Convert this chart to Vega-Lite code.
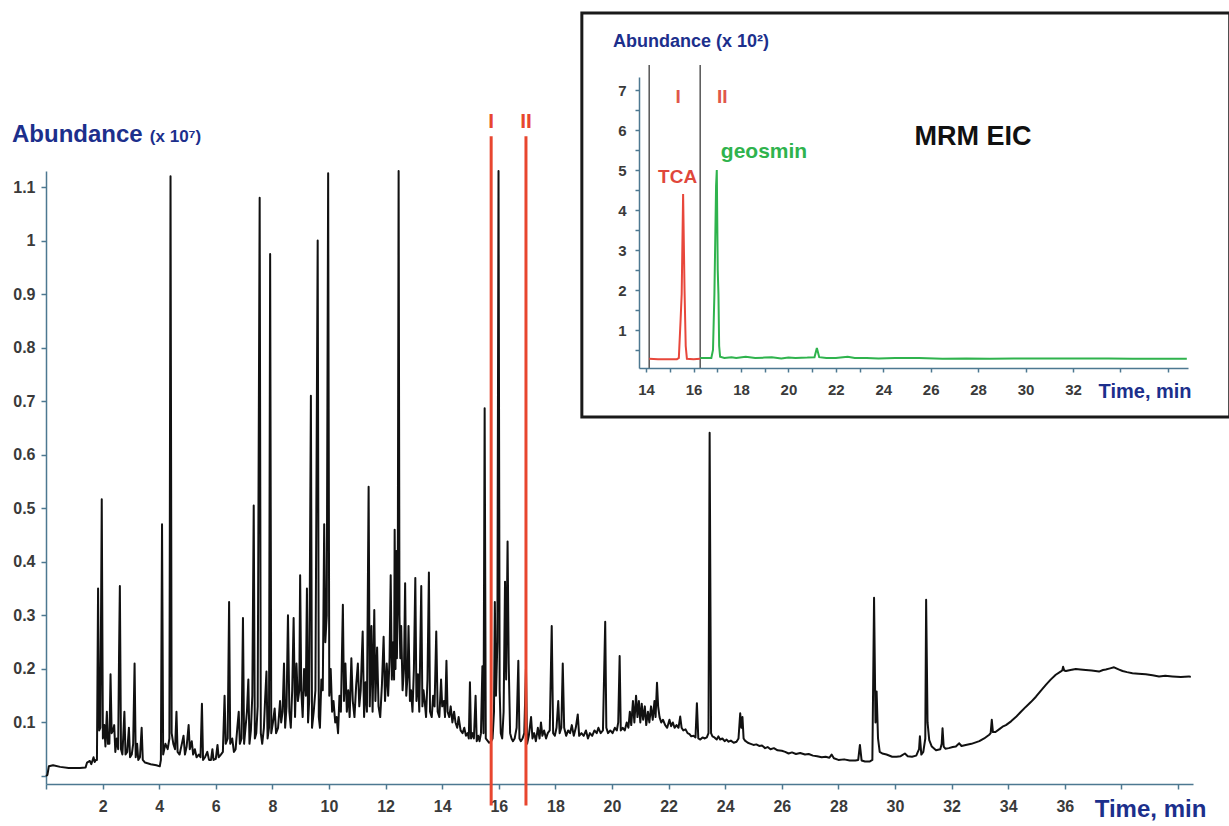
{
"$schema": "https://vega.github.io/schema/vega-lite/v6.json",
"width": 1229, "height": 826, "autosize": "none", "padding": 0,
"background": "white",
"config": {"view": {"stroke": null}, "font": "Liberation Sans",
  "axis": {"grid": false, "domainColor": "#4d7891", "domainWidth": 1.5, "tickColor": "#4d7891", "tickWidth": 1.5, "labelFont": "Liberation Sans", "labelFontWeight": "bold", "labelColor": "#3a3a3a", "labelOverlap": false, "labelFlush": false, "title": null}},
"datasets": {
"main": [
{"t":0.00,"v":0.000},{"t":0.05,"v":0.002},{"t":0.10,"v":0.018},{"t":0.25,"v":0.020},{"t":0.50,"v":0.017},{"t":0.80,"v":0.015},{"t":1.20,"v":0.015},{"t":1.40,"v":0.016},{"t":1.45,"v":0.025},{"t":1.55,"v":0.028},{"t":1.60,"v":0.022},{"t":1.68,"v":0.035},{"t":1.72,"v":0.026},{"t":1.76,"v":0.030},
{"t":1.80,"v":0.030},{"t":1.84,"v":0.350},{"t":1.88,"v":0.085},{"t":1.92,"v":0.090},{"t":1.97,"v":0.517},{"t":2.01,"v":0.070},{"t":2.06,"v":0.095},{"t":2.10,"v":0.055},{"t":2.15,"v":0.120},{"t":2.19,"v":0.060},{"t":2.24,"v":0.060},{"t":2.28,"v":0.190},{"t":2.32,"v":0.080},{"t":2.37,"v":0.085},{"t":2.41,"v":0.095},{"t":2.45,"v":0.045},{"t":2.50,"v":0.070},{"t":2.55,"v":0.050},{"t":2.58,"v":0.220},{"t":2.61,"v":0.355},{"t":2.65,"v":0.050},{"t":2.70,"v":0.040},{"t":2.77,"v":0.120},{"t":2.81,"v":0.040},{"t":2.87,"v":0.045},{"t":2.93,"v":0.090},{"t":2.97,"v":0.035},{"t":3.03,"v":0.040},{"t":3.08,"v":0.060},{"t":3.13,"v":0.210},{"t":3.17,"v":0.035},{"t":3.22,"v":0.060},{"t":3.26,"v":0.030},{"t":3.32,"v":0.035},{"t":3.38,"v":0.090},{"t":3.42,"v":0.030},{"t":3.50,"v":0.025},{"t":3.70,"v":0.022},{"t":3.90,"v":0.020},{"t":4.02,"v":0.018},{"t":4.06,"v":0.030},{"t":4.10,"v":0.470},{"t":4.14,"v":0.040},{"t":4.22,"v":0.060},{"t":4.30,"v":0.050},{"t":4.36,"v":0.070},{"t":4.40,"v":1.120},{"t":4.44,"v":0.080},{"t":4.50,"v":0.060},{"t":4.56,"v":0.050},{"t":4.61,"v":0.120},{"t":4.65,"v":0.045},{"t":4.72,"v":0.040},{"t":4.80,"v":0.060},{"t":4.86,"v":0.075},{"t":4.91,"v":0.040},{"t":4.97,"v":0.055},{"t":5.04,"v":0.095},{"t":5.08,"v":0.050},{"t":5.15,"v":0.065},{"t":5.20,"v":0.040},{"t":5.26,"v":0.050},{"t":5.32,"v":0.035},{"t":5.40,"v":0.040},{"t":5.46,"v":0.035},{"t":5.51,"v":0.135},{"t":5.55,"v":0.030},{"t":5.62,"v":0.035},{"t":5.70,"v":0.045},{"t":5.76,"v":0.030},{"t":5.83,"v":0.030},{"t":5.88,"v":0.050},{"t":5.92,"v":0.030},{"t":6.00,"v":0.032},{"t":6.06,"v":0.058},{"t":6.10,"v":0.035},{"t":6.18,"v":0.040},{"t":6.25,"v":0.045},{"t":6.31,"v":0.150},{"t":6.35,"v":0.060},{"t":6.42,"v":0.070},{"t":6.47,"v":0.325},{"t":6.51,"v":0.060},{"t":6.58,"v":0.070},{"t":6.64,"v":0.045},{"t":6.70,"v":0.050},{"t":6.76,"v":0.090},{"t":6.81,"v":0.120},{"t":6.85,"v":0.060},{"t":6.91,"v":0.070},{"t":6.96,"v":0.295},{"t":7.00,"v":0.060},{"t":7.05,"v":0.090},{"t":7.10,"v":0.120},{"t":7.15,"v":0.180},{"t":7.19,"v":0.060},{"t":7.24,"v":0.085},{"t":7.29,"v":0.150},{"t":7.34,"v":0.505},{"t":7.38,"v":0.070},{"t":7.43,"v":0.080},{"t":7.48,"v":0.130},{"t":7.55,"v":1.080},{"t":7.59,"v":0.080},{"t":7.64,"v":0.060},{"t":7.70,"v":0.090},{"t":7.74,"v":0.140},{"t":7.79,"v":0.195},{"t":7.83,"v":0.070},{"t":7.88,"v":0.090},{"t":7.92,"v":0.975},{"t":7.96,"v":0.080},
{"t":8.02,"v":0.100},{"t":8.08,"v":0.126},{"t":8.13,"v":0.080},{"t":8.20,"v":0.090},{"t":8.27,"v":0.140},{"t":8.31,"v":0.100},{"t":8.36,"v":0.120},{"t":8.41,"v":0.210},{"t":8.45,"v":0.090},{"t":8.50,"v":0.130},{"t":8.55,"v":0.300},{"t":8.60,"v":0.120},{"t":8.65,"v":0.090},{"t":8.70,"v":0.160},{"t":8.75,"v":0.295},{"t":8.80,"v":0.110},{"t":8.85,"v":0.210},{"t":8.90,"v":0.140},{"t":8.95,"v":0.160},{"t":8.98,"v":0.375},{"t":9.02,"v":0.160},{"t":9.07,"v":0.110},{"t":9.12,"v":0.200},{"t":9.18,"v":0.150},{"t":9.22,"v":0.350},{"t":9.26,"v":0.100},{"t":9.30,"v":0.140},{"t":9.36,"v":0.710},{"t":9.40,"v":0.090},{"t":9.46,"v":0.120},{"t":9.52,"v":0.160},{"t":9.60,"v":1.000},{"t":9.64,"v":0.110},{"t":9.68,"v":0.090},{"t":9.73,"v":0.180},{"t":9.78,"v":0.160},{"t":9.83,"v":0.470},{"t":9.87,"v":0.250},{"t":9.92,"v":0.300},{"t":9.97,"v":1.126},{"t":10.01,"v":0.150},{"t":10.06,"v":0.200},{"t":10.11,"v":0.120},{"t":10.16,"v":0.140},{"t":10.22,"v":0.100},{"t":10.27,"v":0.110},{"t":10.32,"v":0.080},{"t":10.37,"v":0.150},{"t":10.42,"v":0.120},{"t":10.49,"v":0.320},{"t":10.53,"v":0.140},{"t":10.58,"v":0.210},{"t":10.63,"v":0.120},{"t":10.68,"v":0.160},{"t":10.73,"v":0.110},{"t":10.79,"v":0.220},{"t":10.84,"v":0.140},{"t":10.90,"v":0.110},{"t":10.96,"v":0.170},{"t":11.02,"v":0.210},{"t":11.07,"v":0.130},{"t":11.12,"v":0.160},{"t":11.19,"v":0.270},{"t":11.24,"v":0.110},{"t":11.29,"v":0.175},{"t":11.34,"v":0.120},{"t":11.40,"v":0.540},{"t":11.44,"v":0.130},{"t":11.50,"v":0.280},{"t":11.54,"v":0.120},{"t":11.60,"v":0.310},{"t":11.64,"v":0.140},{"t":11.70,"v":0.240},{"t":11.75,"v":0.130},{"t":11.81,"v":0.110},{"t":11.87,"v":0.170},{"t":11.93,"v":0.260},{"t":11.98,"v":0.140},{"t":12.04,"v":0.210},{"t":12.09,"v":0.150},{"t":12.14,"v":0.220},{"t":12.18,"v":0.375},{"t":12.22,"v":0.180},{"t":12.27,"v":0.250},{"t":12.30,"v":0.180},{"t":12.32,"v":0.460},{"t":12.35,"v":0.200},{"t":12.38,"v":0.420},{"t":12.40,"v":0.220},{"t":12.43,"v":0.350},{"t":12.46,"v":1.130},{"t":12.49,"v":0.300},{"t":12.52,"v":0.220},{"t":12.55,"v":0.280},{"t":12.60,"v":0.160},{"t":12.65,"v":0.200},{"t":12.69,"v":0.360},{"t":12.73,"v":0.150},{"t":12.78,"v":0.190},{"t":12.81,"v":0.280},{"t":12.86,"v":0.140},{"t":12.90,"v":0.160},{"t":12.95,"v":0.120},{"t":13.00,"v":0.200},{"t":13.05,"v":0.370},{"t":13.09,"v":0.140},{"t":13.14,"v":0.190},{"t":13.19,"v":0.120},{"t":13.26,"v":0.355},{"t":13.30,"v":0.130},{"t":13.34,"v":0.160},{"t":13.38,"v":0.140},{"t":13.43,"v":0.110},{"t":13.48,"v":0.180},{"t":13.53,"v":0.380},{"t":13.57,"v":0.120},{"t":13.63,"v":0.110},{"t":13.68,"v":0.150},{"t":13.73,"v":0.130},{"t":13.79,"v":0.270},{"t":13.84,"v":0.120},{"t":13.90,"v":0.110},{"t":13.96,"v":0.180},
{"t":14.00,"v":0.130},{"t":14.06,"v":0.140},{"t":14.10,"v":0.110},{"t":14.15,"v":0.215},{"t":14.19,"v":0.120},{"t":14.25,"v":0.110},{"t":14.30,"v":0.130},{"t":14.36,"v":0.100},{"t":14.42,"v":0.120},{"t":14.47,"v":0.100},{"t":14.53,"v":0.090},{"t":14.58,"v":0.110},{"t":14.65,"v":0.085},{"t":14.72,"v":0.080},{"t":14.78,"v":0.090},{"t":14.84,"v":0.075},{"t":14.90,"v":0.080},{"t":14.94,"v":0.070},{"t":14.98,"v":0.175},{"t":15.02,"v":0.070},{"t":15.07,"v":0.080},{"t":15.12,"v":0.070},{"t":15.18,"v":0.150},{"t":15.22,"v":0.065},{"t":15.27,"v":0.075},{"t":15.32,"v":0.065},{"t":15.37,"v":0.080},{"t":15.42,"v":0.205},{"t":15.46,"v":0.080},{"t":15.50,"v":0.687},{"t":15.54,"v":0.070},{"t":15.60,"v":0.066},{"t":15.66,"v":0.062},{"t":15.72,"v":0.064},{"t":15.78,"v":0.070},{"t":15.83,"v":0.120},{"t":15.86,"v":0.325},{"t":15.90,"v":0.150},{"t":15.95,"v":0.250},{"t":15.99,"v":1.130},{"t":16.03,"v":0.160},{"t":16.07,"v":0.080},{"t":16.12,"v":0.070},{"t":16.17,"v":0.120},{"t":16.22,"v":0.363},{"t":16.26,"v":0.180},{"t":16.31,"v":0.438},{"t":16.35,"v":0.210},{"t":16.40,"v":0.080},{"t":16.45,"v":0.070},{"t":16.50,"v":0.065},{"t":16.56,"v":0.070},{"t":16.63,"v":0.090},{"t":16.69,"v":0.215},{"t":16.73,"v":0.070},{"t":16.78,"v":0.065},{"t":16.84,"v":0.070},{"t":16.90,"v":0.080},{"t":16.96,"v":0.200},{"t":17.00,"v":0.060},{"t":17.06,"v":0.075},{"t":17.14,"v":0.110},{"t":17.19,"v":0.070},{"t":17.25,"v":0.080},{"t":17.31,"v":0.065},{"t":17.38,"v":0.090},{"t":17.44,"v":0.070},{"t":17.49,"v":0.100},{"t":17.54,"v":0.075},{"t":17.60,"v":0.085},{"t":17.67,"v":0.070},{"t":17.73,"v":0.080},{"t":17.80,"v":0.085},{"t":17.87,"v":0.280},{"t":17.92,"v":0.080},{"t":17.98,"v":0.075},{"t":18.04,"v":0.090},{"t":18.10,"v":0.140},{"t":18.15,"v":0.080},{"t":18.21,"v":0.090},{"t":18.26,"v":0.210},{"t":18.31,"v":0.090},{"t":18.38,"v":0.075},{"t":18.45,"v":0.085},{"t":18.52,"v":0.080},{"t":18.58,"v":0.095},{"t":18.65,"v":0.075},{"t":18.72,"v":0.090},{"t":18.79,"v":0.115},{"t":18.84,"v":0.075},{"t":18.92,"v":0.080},{"t":19.00,"v":0.075},{"t":19.08,"v":0.085},{"t":19.15,"v":0.070},{"t":19.22,"v":0.080},{"t":19.30,"v":0.075},{"t":19.38,"v":0.085},{"t":19.46,"v":0.080},{"t":19.52,"v":0.090},{"t":19.60,"v":0.080},{"t":19.68,"v":0.085},{"t":19.76,"v":0.288},{"t":19.80,"v":0.090},{"t":19.86,"v":0.080},{"t":19.94,"v":0.085},{"t":20.02,"v":0.080},{"t":20.10,"v":0.090},{"t":20.17,"v":0.085},{"t":20.22,"v":0.100},{"t":20.27,"v":0.224},{"t":20.31,"v":0.085},{"t":20.38,"v":0.090},{"t":20.45,"v":0.085},{"t":20.52,"v":0.100},{"t":20.58,"v":0.090},{"t":20.63,"v":0.120},{"t":20.68,"v":0.095},{"t":20.74,"v":0.140},{"t":20.79,"v":0.100},{"t":20.85,"v":0.150},{"t":20.90,"v":0.110},{"t":20.95,"v":0.140},{"t":21.00,"v":0.100},{"t":21.05,"v":0.135},{"t":21.10,"v":0.105},{"t":21.16,"v":0.130},{"t":21.21,"v":0.095},{"t":21.27,"v":0.120},{"t":21.32,"v":0.100},{"t":21.38,"v":0.130},{"t":21.44,"v":0.105},{"t":21.50,"v":0.140},{"t":21.54,"v":0.110},{"t":21.59,"v":0.174},{"t":21.63,"v":0.130},{"t":21.68,"v":0.110},{"t":21.74,"v":0.100},{"t":21.80,"v":0.105},{"t":21.88,"v":0.095},{"t":21.95,"v":0.090},
{"t":22.03,"v":0.105},{"t":22.09,"v":0.093},{"t":22.15,"v":0.100},{"t":22.21,"v":0.090},{"t":22.28,"v":0.095},{"t":22.35,"v":0.090},{"t":22.41,"v":0.111},{"t":22.46,"v":0.090},{"t":22.52,"v":0.085},{"t":22.60,"v":0.087},{"t":22.67,"v":0.080},{"t":22.74,"v":0.078},{"t":22.80,"v":0.074},{"t":22.88,"v":0.075},{"t":22.95,"v":0.072},{"t":23.00,"v":0.136},{"t":23.05,"v":0.070},{"t":23.12,"v":0.068},{"t":23.20,"v":0.072},{"t":23.28,"v":0.070},{"t":23.35,"v":0.072},{"t":23.41,"v":0.080},{"t":23.45,"v":0.641},{"t":23.50,"v":0.080},{"t":23.55,"v":0.074},{"t":23.62,"v":0.072},{"t":23.70,"v":0.068},{"t":23.76,"v":0.074},{"t":23.82,"v":0.068},{"t":23.90,"v":0.070},{"t":23.98,"v":0.065},{"t":24.05,"v":0.068},{"t":24.12,"v":0.064},{"t":24.20,"v":0.066},{"t":24.30,"v":0.062},{"t":24.40,"v":0.064},{"t":24.47,"v":0.070},{"t":24.53,"v":0.117},{"t":24.57,"v":0.090},{"t":24.61,"v":0.110},{"t":24.65,"v":0.070},{"t":24.70,"v":0.066},{"t":24.80,"v":0.062},{"t":24.90,"v":0.060},{"t":25.00,"v":0.058},{"t":25.10,"v":0.059},{"t":25.20,"v":0.056},{"t":25.30,"v":0.057},{"t":25.41,"v":0.052},{"t":25.50,"v":0.054},{"t":25.60,"v":0.050},{"t":25.72,"v":0.052},{"t":25.85,"v":0.048},{"t":26.00,"v":0.047},{"t":26.12,"v":0.045},{"t":26.24,"v":0.042},{"t":26.36,"v":0.044},{"t":26.50,"v":0.041},{"t":26.65,"v":0.043},{"t":26.82,"v":0.040},{"t":26.95,"v":0.041},{"t":27.10,"v":0.038},{"t":27.25,"v":0.037},{"t":27.41,"v":0.035},{"t":27.55,"v":0.036},{"t":27.68,"v":0.034},{"t":27.76,"v":0.040},{"t":27.84,"v":0.033},{"t":28.00,"v":0.030},{"t":28.20,"v":0.031},{"t":28.40,"v":0.029},{"t":28.60,"v":0.029},{"t":28.70,"v":0.030},{"t":28.76,"v":0.058},{"t":28.82,"v":0.029},{"t":28.94,"v":0.027},{"t":29.10,"v":0.027},{"t":29.20,"v":0.030},{"t":29.26,"v":0.333},{"t":29.31,"v":0.100},{"t":29.35,"v":0.158},{"t":29.40,"v":0.070},{"t":29.46,"v":0.045},{"t":29.55,"v":0.042},{"t":29.70,"v":0.040},{"t":29.90,"v":0.036},{"t":30.05,"v":0.036},{"t":30.20,"v":0.037},{"t":30.35,"v":0.042},{"t":30.45,"v":0.037},{"t":30.60,"v":0.036},{"t":30.75,"v":0.038},{"t":30.85,"v":0.050},{"t":30.88,"v":0.074},{"t":30.93,"v":0.040},{"t":31.00,"v":0.045},{"t":31.07,"v":0.070},{"t":31.10,"v":0.329},{"t":31.15,"v":0.100},{"t":31.21,"v":0.067},{"t":31.30,"v":0.055},{"t":31.45,"v":0.048},{"t":31.60,"v":0.050},{"t":31.65,"v":0.060},{"t":31.68,"v":0.089},{"t":31.72,"v":0.055},{"t":31.78,"v":0.051},{"t":31.90,"v":0.052},{"t":32.04,"v":0.054},{"t":32.15,"v":0.055},{"t":32.27,"v":0.061},{"t":32.35,"v":0.056},{"t":32.50,"v":0.058},{"t":32.70,"v":0.060},{"t":32.98,"v":0.065},{"t":33.15,"v":0.070},{"t":33.33,"v":0.077},{"t":33.38,"v":0.080},{"t":33.42,"v":0.105},{"t":33.46,"v":0.082},{"t":33.55,"v":0.082},{"t":33.70,"v":0.088},{"t":33.80,"v":0.092},{"t":33.92,"v":0.095},{"t":34.10,"v":0.102},{"t":34.27,"v":0.110},{"t":34.45,"v":0.120},{"t":34.62,"v":0.129},{"t":34.80,"v":0.138},{"t":34.98,"v":0.148},{"t":35.15,"v":0.159},{"t":35.33,"v":0.170},{"t":35.50,"v":0.180},{"t":35.68,"v":0.189},{"t":35.85,"v":0.195},{"t":35.91,"v":0.197},{"t":35.94,"v":0.204},{"t":35.98,"v":0.197},{"t":36.04,"v":0.196},{"t":36.20,"v":0.198},{"t":36.39,"v":0.200},{"t":36.55,"v":0.199},{"t":36.74,"v":0.198},{"t":36.95,"v":0.197},{"t":37.21,"v":0.195},{"t":37.35,"v":0.198},{"t":37.45,"v":0.199},{"t":37.60,"v":0.201},{"t":37.74,"v":0.203},{"t":37.90,"v":0.199},{"t":38.04,"v":0.196},{"t":38.20,"v":0.194},{"t":38.39,"v":0.192},{"t":38.60,"v":0.191},{"t":38.86,"v":0.190},{"t":39.10,"v":0.188},{"t":39.33,"v":0.186},{"t":39.55,"v":0.187},{"t":39.80,"v":0.186},{"t":40.10,"v":0.185},{"t":40.39,"v":0.186},{"t":40.45,"v":0.185}
],
"mainMarks": [{"t":15.73,"label":"I"},{"t":16.96,"label":"II"}],
"tca": [{"t":14.13,"v":0.28},{"t":14.5,"v":0.27},{"t":15.0,"v":0.27},{"t":15.3,"v":0.27},{"t":15.38,"v":0.30},{"t":15.45,"v":1.2},{"t":15.5,"v":1.9},{"t":15.56,"v":4.4},{"t":15.62,"v":2.0},{"t":15.67,"v":0.6},{"t":15.72,"v":0.28},{"t":16.0,"v":0.27},{"t":16.28,"v":0.28}],
"geo": [{"t":16.28,"v":0.30},{"t":16.5,"v":0.30},{"t":16.75,"v":0.30},{"t":16.82,"v":0.5},{"t":16.88,"v":1.9},{"t":16.95,"v":4.6},{"t":16.98,"v":5.0},{"t":17.02,"v":2.5},{"t":17.05,"v":1.9},{"t":17.08,"v":0.6},{"t":17.12,"v":0.33},{"t":17.3,"v":0.30},{"t":17.6,"v":0.32},{"t":17.8,"v":0.30},{"t":18.2,"v":0.33},{"t":18.6,"v":0.30},{"t":19.0,"v":0.31},{"t":19.3,"v":0.32},{"t":19.7,"v":0.29},{"t":20.0,"v":0.31},{"t":20.3,"v":0.30},{"t":20.8,"v":0.31},{"t":21.1,"v":0.32},{"t":21.2,"v":0.55},{"t":21.3,"v":0.32},{"t":21.6,"v":0.30},{"t":22.0,"v":0.30},{"t":22.5,"v":0.33},{"t":22.8,"v":0.30},{"t":23.3,"v":0.30},{"t":23.8,"v":0.29},{"t":24.5,"v":0.30},{"t":25.5,"v":0.30},{"t":26.5,"v":0.28},{"t":27.5,"v":0.29},{"t":28.5,"v":0.28},{"t":29.5,"v":0.29},{"t":30.5,"v":0.29},{"t":31.5,"v":0.29},{"t":32.5,"v":0.29},{"t":33.5,"v":0.29},{"t":34.5,"v":0.28},{"t":35.5,"v":0.28},{"t":36.8,"v":0.28}],
"insetBounds": [{"t":14.13},{"t":16.28}],
"insetLabels": [{"t":15.35,"label":"I"},{"t":17.21,"label":"II"}]
},
"resolve": {"scale": {"x": "independent", "y": "independent"}, "axis": {"x": "independent", "y": "independent"}},
"layer": [
{"layer": [
  {"data": {"name": "main"},
   "mark": {"type": "line", "color": "#111111", "strokeWidth": 2, "strokeJoin": "round"},
   "encoding": {
     "x": {"field": "t", "type": "quantitative", "scale": {"domain": [0, 40.53], "range": [46, 1193], "nice": false, "zero": false},
           "axis": {"orient": "bottom", "offset": -42, "values": [0,1,2,3,4,5,6,7,8,9,10,11,12,13,14,15,16,17,18,19,20,21,22,23,24,25,26,27,28,29,30,31,32,33,34,35,36,37,38,39,40], "labelExpr": "(datum.value >= 2 && datum.value <= 36 && datum.value % 2 == 0) ? format(datum.value, 'd') : ''", "tickSize": 5, "labelPadding": 9, "labelFontSize": 16, "title": null}},
     "y": {"field": "v", "type": "quantitative", "scale": {"domain": [-0.015, 1.13], "range": [784, 171], "nice": false, "zero": false},
           "axis": {"orient": "left", "offset": -46, "values": [0,0.05,0.1,0.15,0.2,0.25,0.3,0.35,0.4,0.45,0.5,0.55,0.6,0.65,0.7,0.75,0.8,0.85,0.9,0.95,1,1.05,1.1], "labelExpr": "(datum.value > 0.05 && abs(datum.value*10 - round(datum.value*10)) < 0.01) ? format(datum.value, '.2~f') : ''", "tickSize": 5, "labelPadding": 6, "labelFontSize": 16, "title": null}}
   }},
  {"data": {"name": "mainMarks"},
   "mark": {"type": "rule", "color": "#e8462f", "strokeWidth": 3},
   "encoding": {"x": {"field": "t", "type": "quantitative"}, "y": {"datum": 1.195}, "y2": {"datum": -0.055}}},
  {"data": {"name": "mainMarks"},
   "mark": {"type": "text", "color": "#e8462f", "fontSize": 21, "fontWeight": "bold", "align": "center", "baseline": "middle"},
   "encoding": {"x": {"field": "t", "type": "quantitative"}, "y": {"datum": 1.222}, "text": {"field": "label"}}},
  {"data": {"values": [{}]},
   "mark": {"type": "text", "text": "Abundance", "color": "#1c2f8c", "fontSize": 24, "fontWeight": "bold", "align": "left", "baseline": "middle"},
   "encoding": {"x": {"datum": -1.2}, "y": {"datum": 1.198}}},
  {"data": {"values": [{}]},
   "mark": {"type": "text", "text": "(x 10⁷)", "color": "#1c2f8c", "fontSize": 17, "fontWeight": "bold", "align": "left", "baseline": "middle"},
   "encoding": {"x": {"datum": 3.67}, "y": {"datum": 1.194}}},
  {"data": {"values": [{}]},
   "mark": {"type": "text", "text": "Time, min", "color": "#1c2f8c", "fontSize": 24, "fontWeight": "bold", "align": "right", "baseline": "middle"},
   "encoding": {"x": {"datum": 41.0}, "y": {"datum": -0.064}}}
]},
{"layer": [
  {"data": {"values": [{}]},
   "mark": {"type": "rect", "fill": "white", "stroke": "#1a1a1a", "strokeWidth": 3},
   "encoding": {
     "x": {"datum": 11.29, "type": "quantitative", "scale": {"domain": [13.7, 36.85], "range": [639, 1188], "nice": false, "zero": false},
           "axis": {"orient": "bottom", "offset": -458, "zindex": 1, "values": [14,15,16,17,18,19,20,21,22,23,24,26,28,30,32,34,36], "labelExpr": "(datum.value <= 32 && datum.value % 2 == 0) ? format(datum.value, 'd') : ''", "tickSize": 4, "labelPadding": 10, "labelFontSize": 15, "title": null}},
     "x2": {"datum": 38.61},
     "y": {"datum": 8.925, "type": "quantitative", "scale": {"domain": [0.05, 7.325], "range": [368, 77], "nice": false, "zero": false},
           "axis": {"orient": "left", "offset": -639, "zindex": 1, "values": [0.5,1,1.5,2,2.5,3,3.5,4,4.5,5,5.5,6,6.5,7], "labelExpr": "(datum.value % 1 == 0) ? format(datum.value, 'd') : ''", "tickSize": 4, "labelPadding": 9, "labelFontSize": 15, "title": null}},
     "y2": {"datum": -1.175}
   }},
  {"data": {"name": "insetBounds"},
   "mark": {"type": "rule", "color": "#555555", "strokeWidth": 1.5},
   "encoding": {"x": {"field": "t", "type": "quantitative"}, "y": {"datum": 7.625}, "y2": {"datum": 0.05}}},
  {"data": {"name": "tca"},
   "mark": {"type": "line", "color": "#e8473b", "strokeWidth": 2},
   "encoding": {"x": {"field": "t", "type": "quantitative"}, "y": {"field": "v", "type": "quantitative"}}},
  {"data": {"name": "geo"},
   "mark": {"type": "line", "color": "#2fb34d", "strokeWidth": 2},
   "encoding": {"x": {"field": "t", "type": "quantitative"}, "y": {"field": "v", "type": "quantitative"}}},
  {"data": {"name": "insetLabels"},
   "mark": {"type": "text", "color": "#e0574a", "fontSize": 19, "fontWeight": "bold", "align": "center", "baseline": "middle"},
   "encoding": {"x": {"field": "t", "type": "quantitative"}, "y": {"datum": 6.83}, "text": {"field": "label"}}},
  {"data": {"values": [{}]},
   "mark": {"type": "text", "text": "TCA", "color": "#e0473b", "fontSize": 19, "fontWeight": "bold", "align": "center", "baseline": "middle"},
   "encoding": {"x": {"datum": 15.33}, "y": {"datum": 4.83}}},
  {"data": {"values": [{}]},
   "mark": {"type": "text", "text": "geosmin", "color": "#2fb34d", "fontSize": 21, "fontWeight": "bold", "align": "center", "baseline": "middle"},
   "encoding": {"x": {"datum": 18.97}, "y": {"datum": 5.45}}},
  {"data": {"values": [{}]},
   "mark": {"type": "text", "text": "MRM EIC", "color": "#111111", "fontSize": 27, "fontWeight": "bold", "align": "center", "baseline": "middle"},
   "encoding": {"x": {"datum": 27.78}, "y": {"datum": 5.83}}},
  {"data": {"values": [{}]},
   "mark": {"type": "text", "text": "Abundance (x 10²)", "color": "#1c2f8c", "fontSize": 18, "fontWeight": "bold", "align": "left", "baseline": "middle"},
   "encoding": {"x": {"datum": 12.6}, "y": {"datum": 8.2}}},
  {"data": {"values": [{}]},
   "mark": {"type": "text", "text": "Time, min", "color": "#1c2f8c", "fontSize": 20, "fontWeight": "bold", "align": "right", "baseline": "middle"},
   "encoding": {"x": {"datum": 37.0}, "y": {"datum": -0.55}}}
]}
]
}
